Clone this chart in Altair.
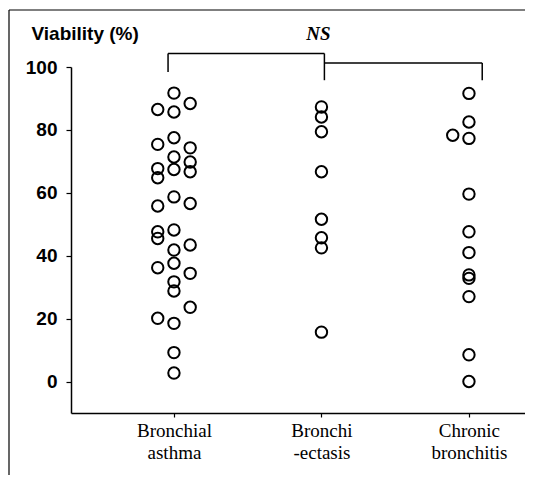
import altair as alt
import pandas as pd

# ---- data ----
categories = ["Bronchial asthma", "Bronchi -ectasis", "Chronic bronchitis"]
label_lines = [["Bronchial", "asthma"], ["Bronchi", "-ectasis"], ["Chronic", "bronchitis"]]

asthma_left = [86.5, 75.4, 67.7, 64.8, 55.8, 47.6, 45.5, 36.2, 20.1]
asthma_mid = [91.7, 85.7, 77.5, 71.4, 67.4, 58.7, 48.2, 41.8, 37.6, 31.7, 28.8, 18.5, 9.2, 2.7]
asthma_right = [88.4, 74.3, 69.8, 66.7, 56.6, 43.4, 34.4, 23.6]
bronchiectasis_mid = [87.3, 84.1, 79.4, 66.7, 51.6, 45.7, 42.5, 15.7]
chronic_left = [78.3]
chronic_mid = [91.6, 82.5, 77.3, 59.6, 47.6, 41.0, 33.9, 32.8, 27.0, 8.5, 0.0]

y_ticks = [0, 20, 40, 60, 80, 100]

# significance bracket (data coordinates: group position, viability %)
bracket_x = [0.96, 2.02, 3.09]
bracket_top = [104.3, 101.3]
bracket_bottom = [98.4, 95.8, 95.8]
ns_label = "NS"

# ---- build tables ----
rows = []
for grp, lane, vals in [
    (1, -1, asthma_left), (1, 0, asthma_mid), (1, 1, asthma_right),
    (2, 0, bronchiectasis_mid),
    (3, -1, chronic_left), (3, 0, chronic_mid),
]:
    for v in vals:
        rows.append({"group": grp, "lane": lane, "viability": v,
                     "disease": categories[grp - 1]})
points_df = pd.DataFrame(rows)

seg = [
    {"x": bracket_x[0], "x2": bracket_x[1], "y": bracket_top[0], "y2": bracket_top[0]},
    {"x": bracket_x[0], "x2": bracket_x[0], "y": bracket_top[0], "y2": bracket_bottom[0]},
    {"x": bracket_x[1], "x2": bracket_x[1], "y": bracket_top[0], "y2": bracket_bottom[1]},
    {"x": bracket_x[1], "x2": bracket_x[2], "y": bracket_top[1], "y2": bracket_top[1]},
    {"x": bracket_x[2], "x2": bracket_x[2], "y": bracket_top[1], "y2": bracket_bottom[2]},
]
bracket_df = pd.DataFrame(seg)
ns_df = pd.DataFrame([{"x": 1.98, "y": 110.4, "t": ns_label}])

W, H = 454, 346
xscale = alt.Scale(domain=[0.302, 3.38], nice=False, zero=False)
yscale = alt.Scale(domain=[-10, 100], nice=False, zero=False)

label_expr = " : ".join(
    [f"datum.value == {i + 1} ? {label_lines[i]!r}" for i in range(2)] + [repr(label_lines[2])]
)

points = alt.Chart(points_df).transform_calculate(
    xpos="datum.group + datum.lane * 0.11"
).mark_point(shape="circle", filled=False, size=130, strokeWidth=2,
             color="black", opacity=1).encode(
    x=alt.X("xpos:Q", scale=xscale,
            axis=alt.Axis(values=[1, 2, 3], labelExpr=label_expr, grid=False,
                          title=None, tickSize=4, labelPadding=4,
                          labelFont="Liberation Serif", labelFontSize=19,
                          labelLineHeight=22, labelColor="black",
                          domainColor="black", domainWidth=1.5,
                          tickColor="black", tickWidth=1.2)),
    y=alt.Y("viability:Q", scale=yscale,
            axis=alt.Axis(values=y_ticks, grid=False, tickSize=5, labelPadding=9,
                          labelFont="Liberation Sans", labelFontSize=19,
                          labelFontWeight="bold", labelColor="black",
                          domainColor="black", domainWidth=1.5,
                          tickColor="black", tickWidth=1.2,
                          title="Viability (%)", titleAngle=0, titleAlign="left",
                          titleBaseline="middle", titleX=-40, titleY=-34,
                          titleFont="Liberation Sans", titleFontSize=19,
                          titleFontWeight="bold", titleColor="black")),
)

bracket = alt.Chart(bracket_df).mark_rule(color="black", strokeWidth=1.5).encode(
    x=alt.X("x:Q", scale=xscale), x2="x2:Q",
    y=alt.Y("y:Q", scale=yscale), y2="y2:Q",
)

ns = alt.Chart(ns_df).mark_text(font="Liberation Serif", fontSize=19,
                                fontStyle="italic", fontWeight="bold",
                                color="black").encode(
    x=alt.X("x:Q", scale=xscale), y=alt.Y("y:Q", scale=yscale), text="t:N"
)

frame_top = alt.Chart(pd.DataFrame([{"a": 0}])).mark_rule(color="black", strokeWidth=1.2).encode(
    x=alt.value(-62), x2=alt.value(462), y=alt.value(-57)
)
frame_left = alt.Chart(pd.DataFrame([{"a": 0}])).mark_rule(color="black", strokeWidth=1.2).encode(
    x=alt.value(-62), y=alt.value(-57), y2=alt.value(410)
)

chart = alt.layer(frame_top, frame_left, bracket, ns, points).properties(
    width=W, height=H,
    autosize=alt.AutoSizeParams(type="none"),
    padding={"left": 63, "top": 59, "right": 0, "bottom": 62},
    background="white",
).configure_view(stroke=None)

chart.save("out.html", embed_options={"renderer": "svg", "actions": False})
